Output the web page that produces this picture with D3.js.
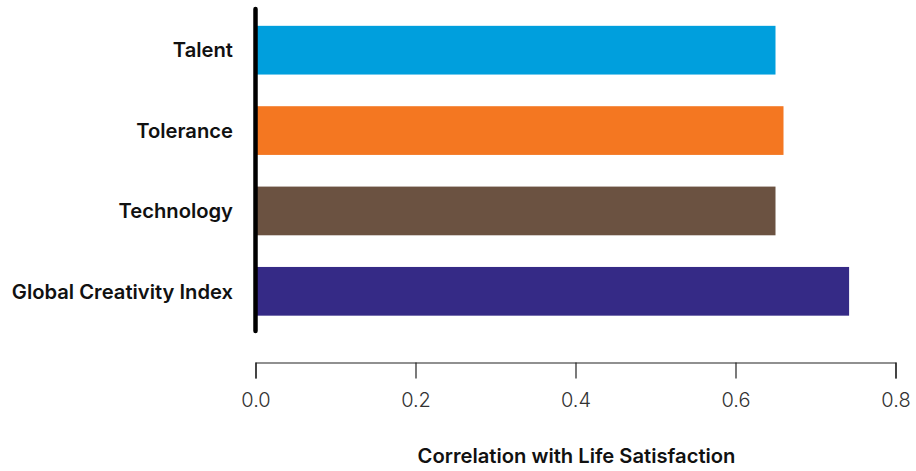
<!DOCTYPE html>
<html>
<head>
<meta charset="utf-8">
<script src="https://cdn.jsdelivr.net/npm/d3@7"></script>
<style>
  html, body { margin: 0; padding: 0; background: #fff; }
  svg { display: block; }
</style>
</head>
<body>
<svg id="chart" width="916" height="471"></svg>
<script>
const categories = ["Talent", "Tolerance", "Technology", "Global Creativity Index"];
const values = [0.65, 0.66, 0.65, 0.742];
const colors = ["#009FDD", "#F47721", "#6B5241", "#352A86"];
const tickValues = [0.0, 0.2, 0.4, 0.6, 0.8];
const axisTitle = "Correlation with Life Satisfaction";

const svg = d3.select("#chart");
const x = d3.scaleLinear().domain([0, 0.8]).range([255.5, 895.5]);
const y = d3.scaleBand().domain(categories).range([10, 331.5])
  .paddingInner(0.394).paddingOuter(0.197);

// bars
svg.append("g").selectAll("rect").data(categories).join("rect")
  .attr("x", x(0))
  .attr("y", d => y(d))
  .attr("width", (d, i) => x(values[i]) - x(0))
  .attr("height", y.bandwidth())
  .attr("fill", (d, i) => colors[i]);

// vertical baseline
svg.append("line")
  .attr("x1", x(0)).attr("x2", x(0))
  .attr("y1", 9).attr("y2", 331)
  .attr("stroke", "#000").attr("stroke-width", 4.5)
  .attr("stroke-linecap", "round");

// category labels
svg.append("g").selectAll("text").data(categories).join("text")
  .attr("x", 233)
  .attr("y", d => y(d) + y.bandwidth() / 2)
  .attr("dy", "0.36em")
  .attr("text-anchor", "end")
  .attr("font-family", "Inter, 'Liberation Sans', sans-serif")
  .attr("font-weight", 600)
  .attr("font-size", 20.2)
  .attr("fill", "#111")
  .text(d => d);

// x axis
const axis = d3.axisBottom(x).tickValues(tickValues)
  .tickFormat(d3.format(".1f")).tickSize(16).tickSizeOuter(16).tickPadding(14.3);
const gx = svg.append("g").attr("transform", "translate(0,362.5)").call(axis);
gx.select(".domain").attr("stroke", "#222").attr("stroke-width", 1.2);
gx.selectAll(".tick line").attr("stroke", "#222").attr("stroke-width", 1.2);
gx.selectAll(".tick text")
  .attr("font-family", "Inter, 'Liberation Sans', sans-serif")
  .attr("font-weight", 300)
  .attr("font-size", 20)
  .attr("fill", "#333");

// axis title
svg.append("text")
  .attr("x", (x(0) + x(0.8)) / 2 + 1)
  .attr("y", 462.5)
  .attr("text-anchor", "middle")
  .attr("font-family", "Inter, 'Liberation Sans', sans-serif")
  .attr("font-weight", 600)
  .attr("font-size", 20.2)
  .attr("fill", "#111")
  .text(axisTitle);
</script>
</body>
</html>
